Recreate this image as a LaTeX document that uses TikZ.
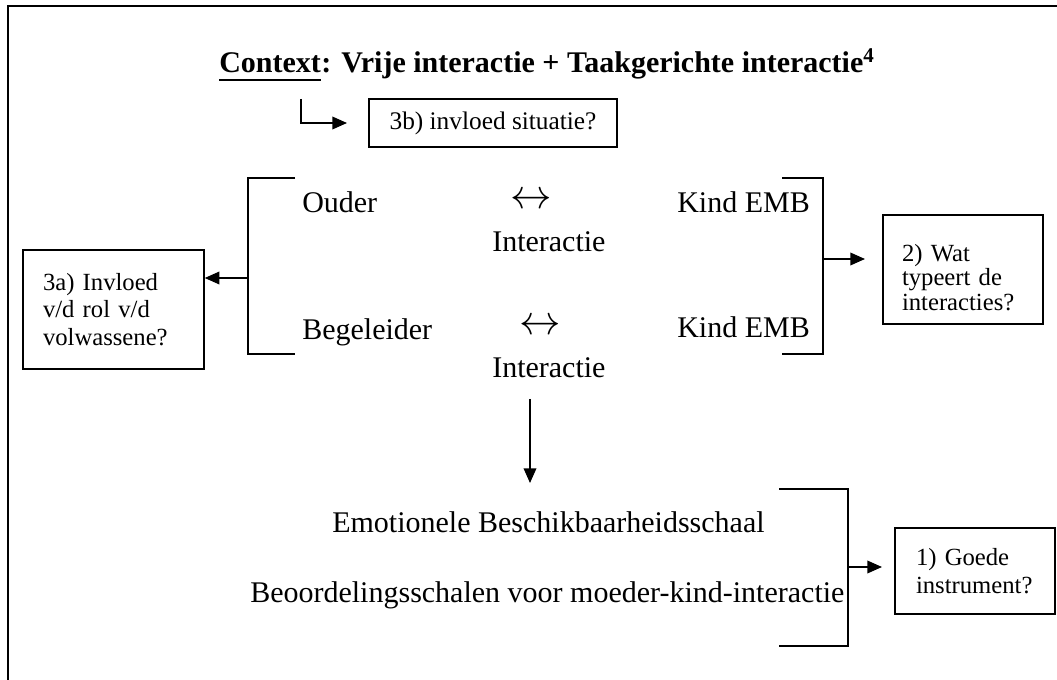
\documentclass[tikz,border=0pt]{standalone}
\usepackage{fontspec}
\usepackage{graphicx}
\setmainfont{Liberation Serif}
\usetikzlibrary{arrows.meta}
\tikzset{
  txt/.style={inner sep=0pt, anchor=base west, font=\fontsize{22.5}{27}\selectfont},
  ttl/.style={inner sep=0pt, anchor=base west, font=\bfseries\fontsize{22.5}{27}\selectfont},
  lr/.style={inner sep=0pt, anchor=center, font=\fontsize{22.5}{27}\selectfont},
  qbox/.style={draw, line width=1.1pt, inner ysep=2pt, align=left, anchor=center},
  conn/.style={line width=1.1pt},
  arr/.style={line width=1.1pt, -{Triangle[length=11pt,width=9.5pt]}},
  brk/.style={line width=1.1pt}
}
\begin{document}
\begin{tikzpicture}[x=0.75pt,y=-0.75pt]
\useasboundingbox (0,0) rectangle (1057,680);
% frame (only top and left edges visible)
\draw[line width=1.5pt] (7.5,680) -- (7.5,6) -- (1057,6);

% title
\node[ttl] (ctx) at (219,73) {Context};
\node[ttl] (ttlrest) at (ctx.base east) {: Vrije interactie + Taakgerichte interactie\textsuperscript{4}};
\draw[line width=1.5pt] ([yshift=-5.5pt]ctx.base west) -- ([yshift=-5.5pt]ctx.base east);

% 3b box with elbow arrow
\node[qbox, align=center, minimum width=186pt, minimum height=36pt, inner xsep=0pt,
      font=\fontsize{19}{22}\selectfont] (b3b) at (493,123) {3b) invloed situatie?};
\coordinate (elb) at (301,99);
\coordinate (elbend) at (347,123);
\draw[arr] (elb) |- (elbend);

% middle texts
\node[txt] (ouder) at (302,213) {Ouder};
\node[lr] (lr1) at (531,201) {\scalebox{1.5}{$\leftrightarrow$}};
\node[txt] (int1) at (492,252) {Interactie};
\node[txt] (kind1) at (677,213) {Kind EMB};
\node[txt] (begel) at (302,340) {Begeleider};
\node[lr] (lr2) at (540,327) {\scalebox{1.5}{$\leftrightarrow$}};
\node[txt] (int2) at (492,378) {Interactie};
\node[txt] (kind2) at (677,338) {Kind EMB};

% left bracket and 3a box
\coordinate (lbt) at (295,178);
\coordinate (lbb) at (295,354);
\coordinate (lbm) at (248,278);
\draw[brk] (lbt) -- (248,178) -- (248,354) -- (lbb);
\node[qbox, minimum width=135.75pt, minimum height=89.25pt, inner xsep=15pt, text width=105.75pt,
      font=\fontsize{18.5}{20.6}\selectfont] (b3a) at (113.5,309.5)
      {3a) Invloed\\v/d rol v/d\\volwassene?};
\draw[arr] (lbm) -- (lbm -| b3a.east);

% right bracket and box 2
\coordinate (rbt) at (782,178);
\coordinate (rbb) at (782,354);
\coordinate (rbm) at (823,259);
\coordinate (a2end) at (865,259);
\draw[brk] (rbt) -- (823,178) -- (823,354) -- (rbb);
\node[qbox, minimum width=120pt, minimum height=81.75pt, inner xsep=14.25pt, text width=91.5pt,
      font=\fontsize{18.5}{18.4}\selectfont] (b2) at (963,269.5)
      {\rule{0pt}{24.5pt}2) Wat\\typeert de\\interacties?};
\draw[arr] (rbm) -- (a2end);

% down arrow
\coordinate (dtop) at (530,399);
\coordinate (dbot) at (530,483);
\draw[arr] (dtop) -- (dbot);

% bottom texts
\node[txt] (emo) at (332,533) {Emotionele Beschikbaarheidsschaal};
\node[txt] (beo) at (250,603) {Beoordelingsschalen voor moeder-kind-interactie};

% bottom bracket and box 1
\coordinate (bbt) at (779,489);
\coordinate (bbb) at (779,646);
\coordinate (bbm) at (848,567);
\coordinate (a1end) at (882,567);
\draw[brk] (bbt) -- (848,489) -- (848,646) -- (bbb);
\node[qbox, minimum width=120pt, minimum height=64.5pt, inner xsep=15.75pt, text width=88.5pt,
      font=\fontsize{18.5}{21}\selectfont] (b1) at (975,571)
      {1) Goede\\instrument?};
\draw[arr] (bbm) -- (a1end);
\end{tikzpicture}
\end{document}
